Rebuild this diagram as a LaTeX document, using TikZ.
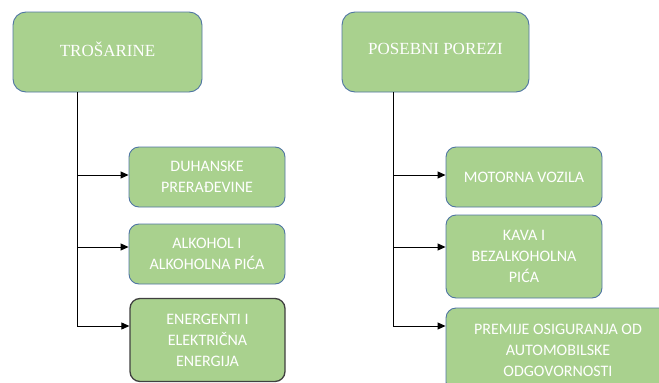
\documentclass[tikz,border=0pt]{standalone}
\usepackage{fontspec}
\setmainfont{Carlito}
\newfontfamily\titlefont{Liberation Serif}
\usetikzlibrary{arrows.meta}
\definecolor{boxfill}{HTML}{A9D18E}
\definecolor{boxline}{HTML}{4F75A3}
\definecolor{darkline}{HTML}{404040}
\begin{document}
\begin{tikzpicture}[x=1pt,y=-1pt,
  base/.style={rounded corners=10pt, fill=boxfill, draw=boxline, line width=0.9pt,
    inner sep=0pt, align=center, text=white},
  topbox/.style={base, rounded corners=13pt, font=\titlefont\fontsize{17}{20}\selectfont},
  subbox/.style={base, font=\fontsize{16}{21}\selectfont},
  conn/.style={line width=0.9pt, black},
  arr/.style={conn, -{Triangle[length=8pt,width=7pt]}}]
\clip (0,0) rectangle (659,383);
\useasboundingbox (0,0) rectangle (659,383);
% top boxes
\node[topbox, minimum width=189pt, minimum height=80pt] (t1) at (107.5,52) {\raisebox{6pt}{TROŠARINE}};
\node[topbox, minimum width=187pt, minimum height=80pt] (t2) at (435.5,52) {\raisebox{6pt}{POSEBNI POREZI}};
% left children
\node[subbox, minimum width=156pt, minimum height=60pt] (c1) at (207,177) {DUHANSKE\\PRERAĐEVINE};
\node[subbox, minimum width=156pt, minimum height=60pt] (c2) at (207,254) {ALKOHOL I\\ALKOHOLNA PIĆA};
\node[subbox, draw=darkline, line width=1.3pt, minimum width=155pt, minimum height=83pt] (c3) at (207.5,340) {ENERGENTI I\\ELEKTRIČNA\\ENERGIJA};
% right children
\node[subbox, minimum width=156pt, minimum height=60pt] (d1) at (524,177) {MOTORNA VOZILA};
\node[subbox, minimum width=156pt, minimum height=83pt] (d2) at (524,256.5) {KAVA I\\BEZALKOHOLNA\\PIĆA};
\node[subbox, minimum width=224pt, minimum height=84pt] (d3) at (558,350) {PREMIJE OSIGURANJA OD\\AUTOMOBILSKE\\ODGOVORNOSTI};
% connector coordinates
\coordinate (ls) at (77,92);
\coordinate (la1) at (77,175);
\coordinate (la2) at (77,247);
\coordinate (la3) at (77,326);
\coordinate (rs) at (393,92);
\coordinate (ra1) at (393,175);
\coordinate (ra2) at (393,247);
\coordinate (ra3) at (393,326);
% connectors
\draw[conn] (ls) -- (la3);
\draw[arr] (la1) -- (la1 -| c1.west);
\draw[arr] (la2) -- (la2 -| c2.west);
\draw[arr] (la3) -- (la3 -| c3.west);
\draw[conn] (rs) -- (ra3);
\draw[arr] (ra1) -- (ra1 -| d1.west);
\draw[arr] (ra2) -- (ra2 -| d2.west);
\draw[arr] (ra3) -- (ra3 -| d3.west);
\end{tikzpicture}
\end{document}
